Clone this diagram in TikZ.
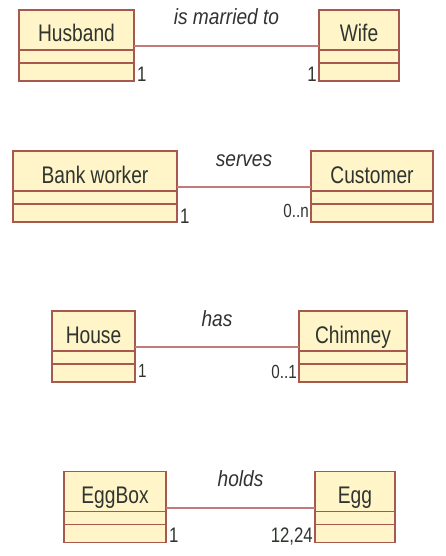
\documentclass[tikz,border=0pt]{standalone}
\usepackage{fontspec}
\newfontfamily\umlfont[FakeStretch=0.8]{Liberation Sans}
\newfontfamily\assocfont[FakeStretch=0.87]{Liberation Sans}
\usetikzlibrary{positioning}
\definecolor{classfill}{HTML}{FFF5C8}
\definecolor{classline}{HTML}{A8594F}
\definecolor{assocline}{HTML}{C47A7A}
\definecolor{umltext}{HTML}{2F342F}
\newcommand{\px}[1]{\fontsize{#1pt}{#1pt}\selectfont}

\begin{document}
\begin{tikzpicture}[x=1pt,y=-1pt]
    \tikzstyle{classhead}=[draw=classline,fill=classfill,line width=1.4pt,outer sep=0pt,minimum height=40pt,text height=24pt,text depth=0pt,font=\umlfont\px{24},text=umltext]
    \tikzstyle{classpart}=[draw=classline,fill=classfill,line width=1.4pt,outer sep=0pt,minimum height=13pt,inner sep=0pt]
    \tikzstyle{classlast}=[classpart,minimum height=18pt]
    \tikzstyle{assoc}=[draw=assocline,line width=2pt]
    \tikzstyle{verb}=[font=\assocfont\itshape\px{22},text=umltext,anchor=base,yshift=21pt,inner sep=0pt]
    \tikzstyle{multl}=[font=\umlfont\px{21},text=umltext,anchor=base west,inner sep=0pt,xshift=3pt]
    \tikzstyle{multr}=[font=\umlfont\px{21},text=umltext,anchor=base east,inner sep=0pt,xshift=-2pt]

    \useasboundingbox (0,0) rectangle (446,556);

    % husband / wife
    \node[classhead,minimum width=115pt] (husband) at (76.5,30) {Husband};
    \node[classpart,minimum width=115pt,below=0pt of husband] (husbandA) {};
    \node[classlast,minimum width=115pt,below=0pt of husbandA] (husbandB) {};
    \node[classhead,minimum width=80pt] (wife) at (359,30) {Wife};
    \node[classpart,minimum width=80pt,below=0pt of wife] (wifeA) {};
    \node[classlast,minimum width=80pt,below=0pt of wifeA] (wifeB) {};

    \path[assoc] ([yshift=4pt]husband.south east) -- node[verb]{is married to} ([yshift=4pt]wife.south west);
    \node[multl,yshift=-1pt] (husbandM) at (husbandB.south east) {1};
    \node[multr,yshift=-1pt] (wifeM) at (wifeB.south west) {1};

    % bank worker / customer
    \node[classhead,minimum width=164pt] (worker) at (95,171) {Bank worker};
    \node[classpart,minimum width=164pt,below=0pt of worker] (workerA) {};
    \node[classlast,minimum width=164pt,below=0pt of workerA] (workerB) {};
    \node[classhead,minimum width=122pt] (customer) at (372,171) {Customer};
    \node[classpart,minimum width=122pt,below=0pt of customer] (customerA) {};
    \node[classlast,minimum width=122pt,below=0pt of customerA] (customerB) {};

    \path[assoc] ([yshift=4pt]worker.south east) -- node[verb]{serves} ([yshift=4pt]customer.south west);
    \node[multl,yshift=-1pt] (workerM) at (workerB.south east) {1};
    \node[multr,font=\umlfont\px{19},yshift=5pt] (customerM) at (customerB.south west) {0..n};

    % house / chimney
    \node[classhead,minimum width=83pt] (house) at (93.5,331) {House};
    \node[classpart,minimum width=83pt,below=0pt of house] (houseA) {};
    \node[classlast,minimum width=83pt,below=0pt of houseA] (houseB) {};
    \node[classhead,minimum width=108pt] (chimney) at (353,331) {Chimney};
    \node[classpart,minimum width=108pt,below=0pt of chimney] (chimneyA) {};
    \node[classlast,minimum width=108pt,below=0pt of chimneyA] (chimneyB) {};

    \path[assoc] ([yshift=4pt]house.south east) -- node[verb]{has} ([yshift=4pt]chimney.south west);
    \node[multl,font=\umlfont\px{19},yshift=5pt] (houseM) at (houseB.south east) {1};
    \node[multr,font=\umlfont\px{19},yshift=4pt] (chimneyM) at (chimneyB.south west) {0..1};

    % eggbox / egg
    \node[classhead,minimum width=102pt] (eggbox) at (115,491.5) {EggBox};
    \node[classpart,minimum width=102pt,below=0pt of eggbox] (eggboxA) {};
    \node[classlast,minimum width=102pt,below=0pt of eggboxA] (eggboxB) {};
    \node[classhead,minimum width=80pt] (egg) at (355,491.5) {Egg};
    \node[classpart,minimum width=80pt,below=0pt of egg] (eggA) {};
    \node[classlast,minimum width=80pt,below=0pt of eggA] (eggB) {};

    \path[assoc] ([yshift=4pt]eggbox.south east) -- node[verb]{holds} ([yshift=4pt]egg.south west);
    \node[multl] (eggboxM) at (eggboxB.south east) {1};
    \node[multr] (eggM) at (eggB.south west) {12,24};
\end{tikzpicture}
\end{document}
